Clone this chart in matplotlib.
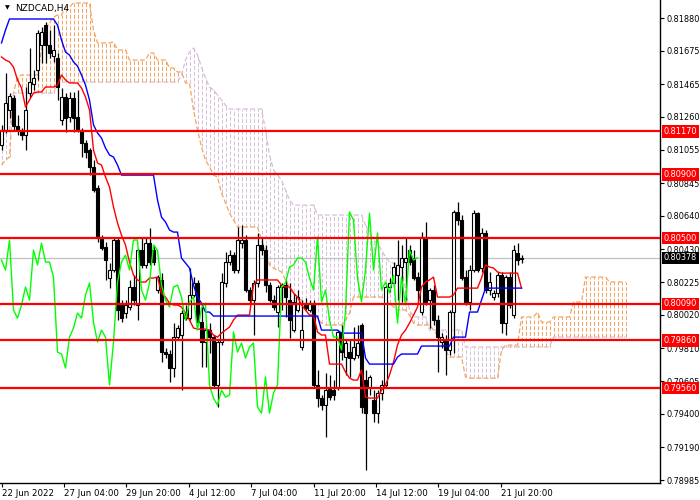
import numpy as np
import matplotlib
matplotlib.use("Agg")
import matplotlib.pyplot as plt

# H4 candles
opens = [0.81084, 0.81178, 0.81304, 0.81379, 0.81203, 0.81178, 0.81147, 0.81410, 0.81467, 0.81554,
         0.81711, 0.81836, 0.81711, 0.81642, 0.81630, 0.81241, 0.81385, 0.81260, 0.81379, 0.81260,
         0.81178, 0.81097, 0.81053, 0.80947, 0.80815, 0.80502, 0.80445, 0.80251, 0.80301, 0.80489,
         0.80082, 0.80032, 0.80069, 0.80195, 0.80082, 0.80426, 0.80333, 0.80470, 0.80426, 0.80176,
         0.80239, 0.79787, 0.79775, 0.79687, 0.79881, 0.79894, 0.80032, 0.80000, 0.80145, 0.80220,
         0.79975, 0.79850, 0.79925, 0.79881, 0.79581, 0.79850, 0.80220, 0.80351, 0.80395, 0.80301,
         0.80470, 0.80489, 0.80176, 0.80113, 0.80220, 0.80458, 0.80426, 0.80207, 0.80113, 0.80038,
         0.80195, 0.80207, 0.80113, 0.79925, 0.80051, 0.79819, 0.80094, 0.80051, 0.80094, 0.79581,
         0.79499, 0.79455, 0.79562, 0.79549, 0.79562, 0.79913, 0.79756, 0.79787, 0.79750, 0.79769,
         0.79957, 0.79612, 0.79562, 0.79487, 0.79405, 0.79531, 0.79581, 0.80195, 0.80220, 0.80270,
         0.80320, 0.80351, 0.80426, 0.80376, 0.80257, 0.80038, 0.80508, 0.80113, 0.80176, 0.79988,
         0.79850, 0.79863, 0.79800, 0.80038, 0.80665, 0.80614, 0.80257, 0.80101, 0.80301, 0.80658,
         0.80314, 0.80533, 0.80176, 0.80132, 0.80157, 0.80270, 0.79969, 0.80257, 0.80019, 0.80408,
         0.80370]
highs = [0.81210, 0.81536, 0.81410, 0.81398, 0.81272, 0.81191, 0.81448, 0.81692, 0.81554, 0.81805,
         0.81824, 0.81855, 0.81805, 0.81836, 0.81661, 0.81442, 0.81410, 0.81417, 0.81417, 0.81429,
         0.81191, 0.81116, 0.81066, 0.80990, 0.80834, 0.80520, 0.80477, 0.80345, 0.80502, 0.80502,
         0.80113, 0.80113, 0.80239, 0.80270, 0.80439, 0.80502, 0.80502, 0.80564, 0.80458, 0.80270,
         0.80282, 0.79812, 0.79800, 0.79969, 0.79957, 0.80051, 0.80082, 0.80314, 0.80257, 0.80239,
         0.80094, 0.79957, 0.79969, 0.79894, 0.79863, 0.80282, 0.80414, 0.80426, 0.80414, 0.80571,
         0.80583, 0.80520, 0.80195, 0.80239, 0.80533, 0.80508, 0.80458, 0.80226, 0.80145, 0.80207,
         0.80220, 0.80239, 0.80220, 0.80157, 0.80176, 0.80113, 0.80126, 0.80113, 0.80113, 0.79675,
         0.79518, 0.79656, 0.79643, 0.79612, 0.79925, 0.79957, 0.79863, 0.79863, 0.79944, 0.79957,
         0.79969, 0.79675, 0.79643, 0.79549, 0.79549, 0.79612, 0.80220, 0.80251, 0.80351, 0.80489,
         0.80458, 0.80502, 0.80458, 0.80426, 0.80289, 0.80539, 0.80602, 0.80188, 0.80207, 0.80019,
         0.79906, 0.79894, 0.80051, 0.80677, 0.80727, 0.80646, 0.80301, 0.80333, 0.80677, 0.80665,
         0.80564, 0.80552, 0.80289, 0.80176, 0.80289, 0.80289, 0.80270, 0.80289, 0.80458, 0.80470,
         0.80395]
lows = [0.81053, 0.81160, 0.81254, 0.81178, 0.81147, 0.81116, 0.81053, 0.81385, 0.81429, 0.81492,
        0.81598, 0.81598, 0.81630, 0.81605, 0.81366, 0.81210, 0.81166, 0.81229, 0.81166, 0.81166,
        0.81009, 0.81003, 0.80896, 0.80790, 0.80477, 0.80426, 0.80239, 0.80188, 0.80289, 0.79988,
        0.79975, 0.80000, 0.80051, 0.80082, 0.79988, 0.80314, 0.80314, 0.80333, 0.80333, 0.80157,
        0.79725, 0.79750, 0.79599, 0.79631, 0.79863, 0.79549, 0.79988, 0.79988, 0.80132, 0.79957,
        0.79693, 0.79693, 0.79781, 0.79568, 0.79443, 0.79831, 0.80195, 0.80333, 0.80282, 0.80282,
        0.80439, 0.80163, 0.80094, 0.79894, 0.80195, 0.80395, 0.80163, 0.80101, 0.80051, 0.79944,
        0.80051, 0.80007, 0.79875, 0.79913, 0.80038, 0.79800, 0.80051, 0.80038, 0.79568, 0.79443,
        0.79424, 0.79255, 0.79487, 0.79487, 0.79549, 0.79737, 0.79643, 0.79631, 0.79737, 0.79750,
        0.79405, 0.79048, 0.79518, 0.79349, 0.79343, 0.79487, 0.79562, 0.80163, 0.80195, 0.80113,
        0.80101, 0.80113, 0.80333, 0.80239, 0.80101, 0.80019, 0.80082, 0.79938, 0.79957, 0.79662,
        0.79812, 0.79643, 0.79769, 0.79781, 0.80583, 0.80239, 0.80082, 0.80051, 0.80289, 0.80289,
        0.80289, 0.80157, 0.80145, 0.80113, 0.80132, 0.79906, 0.79894, 0.80063, 0.80000, 0.80333,
        0.80345]
closes = [0.81178, 0.81348, 0.81391, 0.81203, 0.81178, 0.81147, 0.81304, 0.81479, 0.81504, 0.81786,
          0.81792, 0.81711, 0.81661, 0.81680, 0.81448, 0.81385, 0.81254, 0.81379, 0.81254, 0.81178,
          0.81097, 0.81041, 0.80947, 0.80802, 0.80502, 0.80439, 0.80364, 0.80301, 0.80489, 0.80051,
          0.80000, 0.80082, 0.80195, 0.80113, 0.80426, 0.80333, 0.80470, 0.80351, 0.80351, 0.80257,
          0.79787, 0.79775, 0.79687, 0.79881, 0.79938, 0.80032, 0.80000, 0.80145, 0.80220, 0.79975,
          0.79850, 0.79925, 0.79881, 0.79581, 0.79850, 0.80226, 0.80351, 0.80395, 0.80301, 0.80489,
          0.80489, 0.80176, 0.80113, 0.80220, 0.80458, 0.80426, 0.80207, 0.80113, 0.80069, 0.80195,
          0.80207, 0.80132, 0.79988, 0.80101, 0.80132, 0.79925, 0.80063, 0.80094, 0.79581, 0.79499,
          0.79455, 0.79549, 0.79505, 0.79518, 0.79913, 0.79787, 0.79844, 0.79750, 0.79819, 0.79844,
          0.79443, 0.79405, 0.79631, 0.79405, 0.79531, 0.79581, 0.80195, 0.80220, 0.80320, 0.80333,
          0.80376, 0.80376, 0.80351, 0.80251, 0.80176, 0.80508, 0.80101, 0.80176, 0.79988, 0.79881,
          0.79881, 0.79800, 0.80038, 0.80665, 0.80614, 0.80251, 0.80101, 0.80301, 0.80658, 0.80301,
          0.80533, 0.80176, 0.80226, 0.80157, 0.80270, 0.79969, 0.80257, 0.80082, 0.80426, 0.80364,
          0.80378]

# Ichimoku lines, read as step runs (level, number of bars)
tenkan_levels = [0.81636, 0.81617, 0.81605, 0.81573, 0.81492, 0.81442, 0.81323, 0.81366, 0.81410, 0.81417,
                 0.81448, 0.81460, 0.81523, 0.81492, 0.81473, 0.81442, 0.81385, 0.81304, 0.81053, 0.80972,
                 0.80959, 0.80884, 0.80821, 0.80696, 0.80596, 0.80520, 0.80458, 0.80351, 0.80270, 0.80239,
                 0.80226, 0.80251, 0.80257, 0.80157, 0.80132, 0.80094, 0.80082, 0.80069, 0.80032, 0.79988,
                 0.79938, 0.79931, 0.79925, 0.79894, 0.79881, 0.79906, 0.79925, 0.79944, 0.79988, 0.80019,
                 0.80207, 0.80239, 0.80207, 0.80195, 0.80157, 0.80132, 0.80082, 0.80051, 0.80019, 0.79913,
                 0.79894, 0.79712, 0.79662, 0.79624, 0.79612, 0.79675, 0.79505, 0.79499, 0.79549, 0.79581,
                 0.79643, 0.79725, 0.79831, 0.79894, 0.79925, 0.79969, 0.80019, 0.80069, 0.80195, 0.80226,
                 0.80239, 0.80257, 0.80132, 0.80145, 0.80188, 0.80251, 0.80333, 0.80320, 0.80314, 0.80289,
                 0.80282, 0.80188]
tenkan_runs = [1, 1, 1, 1, 1, 1, 1, 1, 1, 2,
               3, 1, 1, 1, 3, 1, 1, 1, 1, 1,
               1, 1, 1, 1, 1, 1, 1, 1, 1, 1,
               2, 2, 1, 1, 1, 1, 2, 1, 1, 1,
               1, 3, 1, 1, 1, 1, 1, 1, 1, 4,
               1, 6, 1, 2, 1, 1, 1, 1, 2, 1,
               2, 4, 1, 1, 2, 1, 1, 3, 1, 1,
               1, 1, 1, 1, 1, 1, 1, 1, 1, 1,
               1, 1, 4, 1, 6, 1, 1, 1, 1, 1,
               5, 1]
kijun_levels = [0.81724, 0.81805, 0.81874, 0.81836, 0.81742, 0.81667, 0.81648, 0.81605, 0.81579, 0.81523,
                0.81460, 0.81366, 0.81210, 0.81160, 0.81128, 0.81066, 0.81022, 0.81009, 0.80959, 0.80896,
                0.80740, 0.80633, 0.80602, 0.80552, 0.80539, 0.80376, 0.80345, 0.80314, 0.80207, 0.80132,
                0.80094, 0.80038, 0.80013, 0.79925, 0.79906, 0.79750, 0.79712, 0.79756, 0.79775, 0.79825,
                0.79881, 0.80038, 0.80113, 0.80188]
kijun_runs = [1, 1, 12, 1, 1, 1, 1, 1, 1, 1,
              1, 1, 1, 1, 1, 1, 1, 1, 1, 9,
              1, 1, 1, 1, 2, 1, 1, 1, 1, 1,
              1, 2, 27, 5, 6, 1, 7, 1, 5, 8,
              4, 3, 1, 10]
span_a_levels = [0.80959, 0.80990, 0.81009, 0.81410, 0.81511, 0.81523, 0.81680, 0.81805, 0.81849, 0.81886,
                 0.81899, 0.81949, 0.81974, 0.81805, 0.81724, 0.81730, 0.81680, 0.81617, 0.81661, 0.81617,
                 0.81567, 0.81542, 0.81473, 0.81304, 0.81178, 0.81072, 0.80990, 0.80947, 0.80896, 0.80884,
                 0.80784, 0.80721, 0.80658, 0.80614, 0.80571, 0.80489, 0.80426, 0.80333, 0.80314, 0.80301,
                 0.80289, 0.80239, 0.80195, 0.80163, 0.80126, 0.80113, 0.80082, 0.80051, 0.80032, 0.80000,
                 0.79969, 0.79957, 0.79988, 0.80032, 0.80132, 0.80113, 0.80094, 0.80069, 0.80051, 0.80019,
                 0.79969, 0.79957, 0.79925, 0.79894, 0.79863, 0.79800, 0.79756, 0.79631, 0.79624, 0.79800,
                 0.79831, 0.80007, 0.80038, 0.79975, 0.80007, 0.80101, 0.80257, 0.80226]
span_a_runs = [1, 1, 1, 1, 1, 5, 1, 1, 1, 1,
               2, 2, 5, 1, 4, 1, 3, 5, 2, 3,
               2, 2, 2, 1, 1, 1, 1, 1, 1, 1,
               1, 1, 1, 1, 6, 1, 1, 1, 1, 1,
               1, 1, 1, 1, 1, 1, 1, 1, 1, 1,
               1, 5, 1, 1, 8, 1, 1, 1, 3, 1,
               1, 4, 1, 1, 1, 1, 4, 1, 8, 1,
               4, 4, 1, 3, 5, 3, 6, 5]
span_b_levels = [0.81178, 0.81410, 0.81479, 0.81523, 0.81617, 0.81667, 0.81692, 0.81648, 0.81573, 0.81504,
                 0.81448, 0.81429, 0.81398, 0.81366, 0.81335, 0.81310, 0.81178, 0.81022, 0.80928, 0.80896,
                 0.80865, 0.80802, 0.80740, 0.80708, 0.80646, 0.80583, 0.80539, 0.80489, 0.80470, 0.80426,
                 0.80383, 0.80351, 0.80345, 0.80333, 0.80176, 0.80051, 0.80007, 0.79925, 0.79819, 0.79881]
span_b_runs = [3, 11, 31, 1, 1, 1, 1, 1, 1, 1,
               1, 1, 1, 1, 1, 9, 1, 1, 1, 1,
               1, 1, 1, 6, 12, 1, 1, 1, 1, 1,
               1, 1, 1, 2, 1, 1, 4, 9, 22, 19]

levels = [0.81170, 0.80900, 0.80500, 0.80090, 0.79860, 0.79560]
current_price = 0.80378
price_ticks = [0.81880, 0.81675, 0.81465, 0.81260, 0.81055, 0.80845, 0.80640, 0.80430,
               0.80225, 0.80020, 0.79810, 0.79605, 0.79400, 0.79190, 0.78985]
time_labels = ['22 Jun 2022', '27 Jun 04:00', '29 Jun 20:00', '4 Jul 12:00', '7 Jul 04:00',
               '11 Jul 20:00', '14 Jul 12:00', '19 Jul 04:00', '21 Jul 20:00']
time_label_bars = [0, 15.6, 31.2, 46.8, 62.4, 78, 93.6, 109.2, 124.8]
shift = 26

o = np.array(opens)
h = np.array(highs)
l = np.array(lows)
c = np.array(closes)
x = np.arange(len(c))
tenkan = np.repeat(tenkan_levels, tenkan_runs)
kijun = np.repeat(kijun_levels, kijun_runs)
span_a = np.repeat(span_a_levels, span_a_runs)
span_b = np.repeat(span_b_levels, span_b_runs)
xc = np.arange(len(span_a))

plt.rcParams['font.family'] = ['DejaVu Sans']
fig = plt.figure(figsize=(7, 5), dpi=100)
ax = fig.add_axes([0, 17 / 500, 660 / 700, 483 / 500])

# cloud: 1px dashed columns, one per bar
dash = (0, (3.9, 1.9))
bull = span_a >= span_b
ax.vlines(xc[bull], span_b[bull], span_a[bull], colors='#F4A460', linestyles=dash, lw=0.72, zorder=1)
ax.vlines(xc[~bull], span_a[~bull], span_b[~bull], colors='#D8BFD8', linestyles=dash, lw=0.72, zorder=1)
ax.plot(xc, span_a, color='#F4A460', ls=dash, lw=0.9, zorder=1)
ax.plot(xc, span_b, color='#D8BFD8', ls=dash, lw=0.9, zorder=1)

ax.axhline(current_price, color='#C0C0C0', lw=0.9, zorder=1.5)

# candles
ax.vlines(x, l, h, color='black', lw=0.9, zorder=3)
up = c >= o
body = np.maximum(np.abs(c - o), 0.00003)
ax.bar(x[up], body[up], bottom=o[up], width=0.62, color='white', edgecolor='black', lw=0.8, zorder=3.5)
ax.bar(x[~up], body[~up], bottom=c[~up], width=0.62, color='black', edgecolor='black', lw=0.8, zorder=3.5)

# lines
ax.plot(x, tenkan, color='red', lw=1, zorder=4)
ax.plot(x, kijun, color='blue', lw=1, zorder=4)
ax.plot(x[:-shift], c[shift:], color='#00FF00', lw=1, zorder=4)

for lv in levels:
    ax.axhline(lv, color='red', lw=1.6, zorder=5)

ax.set_xlim(-0.375, 164.625)
ax.set_ylim(0.78967, 0.81993)

ax.yaxis.tick_right()
ax.set_yticks(price_ticks)
ax.set_yticklabels([f'{p:.5f}' for p in price_ticks])
ax.tick_params(axis='y', direction='out', length=3, labelsize=5.9, pad=2, width=0.8)
ax.set_xticks(time_label_bars)
ax.set_xticklabels(time_labels)
ax.tick_params(axis='x', direction='out', length=3, labelsize=6.2, pad=1, width=0.8)
for t in ax.get_xticklabels():
    t.set_ha('left')
for s in ['left', 'top']:
    ax.spines[s].set_visible(False)
for s in ['right', 'bottom']:
    ax.spines[s].set_linewidth(1)

tr = ax.get_yaxis_transform()
for lv in levels:
    ax.text(1.006, lv, f'{lv:.5f}', transform=tr, color='white', fontsize=5.9, va='center', ha='left',
            bbox=dict(boxstyle='square,pad=0.2', fc='red', ec='none'), clip_on=False, zorder=10)
ax.text(1.006, current_price, f'{current_price:.5f}', transform=tr, color='white', fontsize=5.9,
        va='center', ha='left', bbox=dict(boxstyle='square,pad=0.2', fc='black', ec='none'),
        clip_on=False, zorder=10)

fig.text(5 / 700, 1 - 8 / 500, '\u25bc', fontsize=4.5, va='center', ha='left')
fig.text(15 / 700, 1 - 8 / 500, 'NZDCAD,H4', fontsize=6.5, va='center', ha='left')

fig.savefig('out.png', dpi=100)
